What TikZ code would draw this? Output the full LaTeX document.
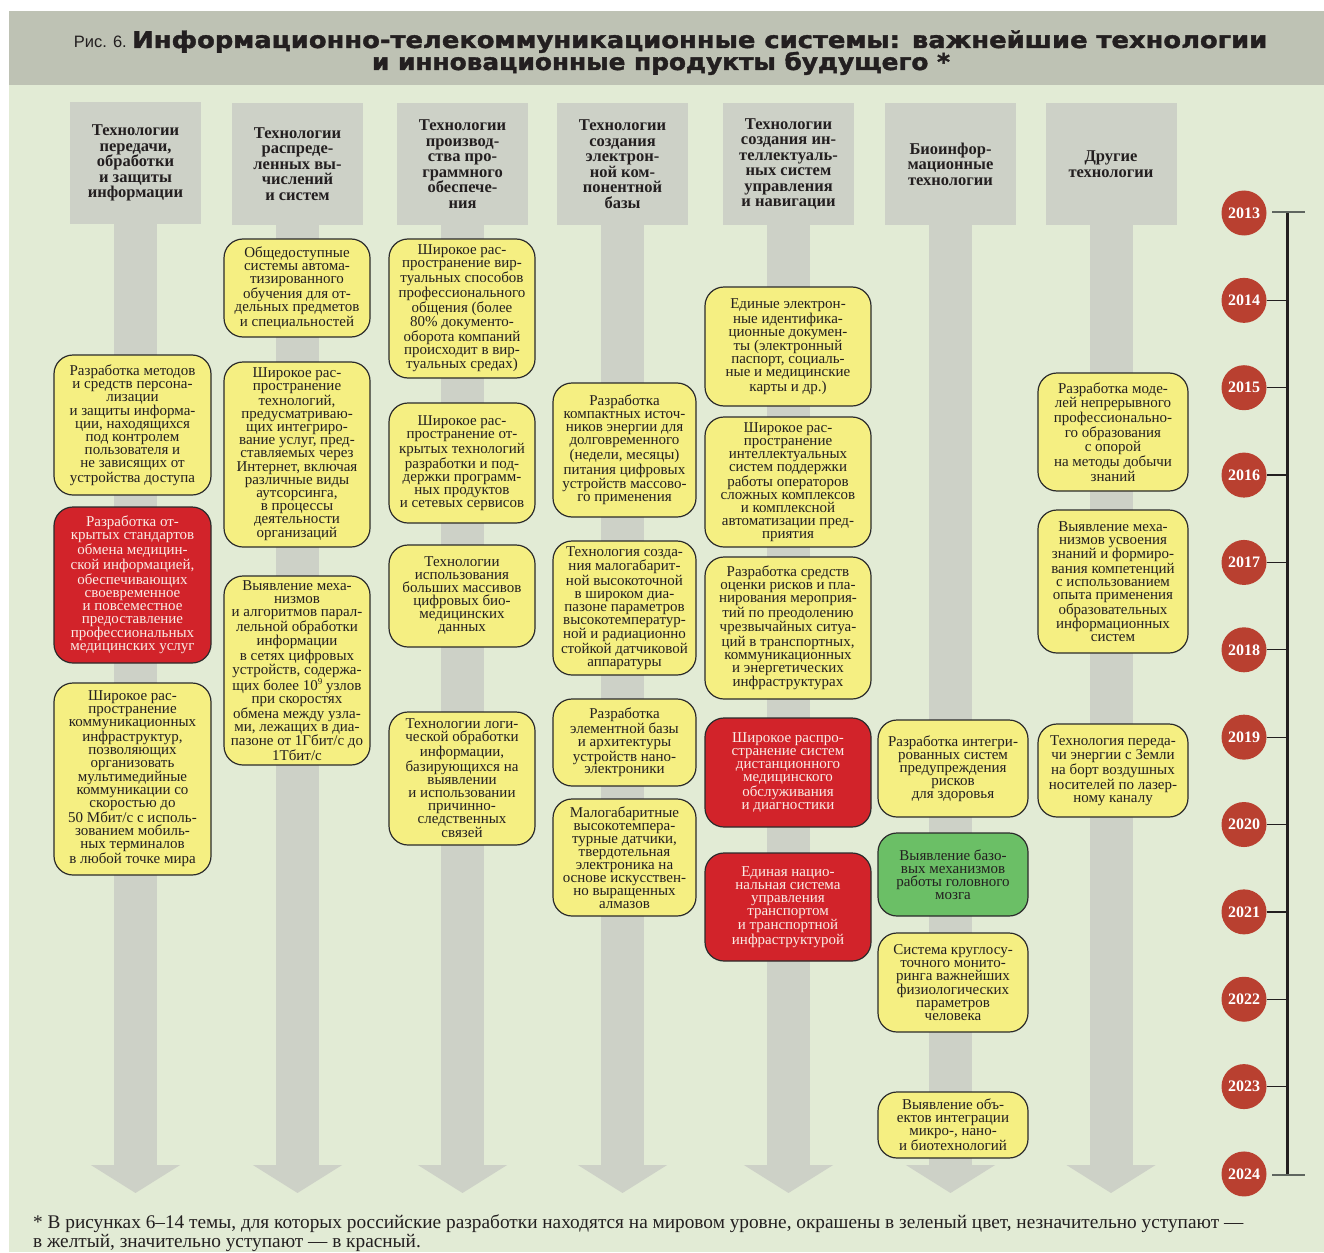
\documentclass[tikz,border=0pt]{standalone}
\usepackage{fontspec}
\usepackage{graphicx}
\setmainfont{Liberation Serif}
\newfontfamily\headsans{DejaVu Sans}[BoldFeatures={FakeBold=1.6}]
\newfontfamily\capsans{Liberation Sans}
\usetikzlibrary{arrows.meta}

\definecolor{bggreen}{HTML}{E2EBD5}
\definecolor{bandgrey}{HTML}{BEC2B4}
\definecolor{headgrey}{HTML}{CDD1C7}
\definecolor{boxyellow}{HTML}{F5EF82}
\definecolor{boxred}{HTML}{D2232A}
\definecolor{boxgreen}{HTML}{6BBF66}
\definecolor{yearred}{HTML}{B94030}
\definecolor{ink}{HTML}{231F20}
\definecolor{redink}{HTML}{FAEDE6}
\definecolor{boxline}{HTML}{2B2B2B}
\definecolor{tickgrey}{HTML}{5F6660}

\tikzset{
  itm/.style={rounded corners=19pt, draw=boxline, line width=1.2pt, align=center,
    inner sep=0pt, font=\rmfamily\fontsize{15}{13}\selectfont, text=ink},
  ybox/.style={itm, fill=boxyellow},
  rbox/.style={itm, fill=boxred, text=redink},
  gbox/.style={itm, fill=boxgreen},
  headbox/.style={fill=headgrey, align=center, inner sep=0pt,
    font=\rmfamily\bfseries\fontsize{16.5}{15.5}\selectfont, text=ink,
    minimum width=131pt, minimum height=122pt},
  flow/.style={draw=headgrey, line width=43pt, -{Triangle[width=88pt,length=28pt]}},
  yr/.style={circle, fill=yearred, text=white, font=\rmfamily\bfseries\fontsize{16}{16}\selectfont,
    minimum size=45pt, inner sep=0pt},
  endtick/.style={draw=tickgrey, line width=2.5pt},
  tick/.style={draw=ink, line width=1.3pt},
  titletext/.style={font=\headsans\bfseries\fontsize{23}{23}\selectfont, text=ink, inner sep=0pt},
  notetext/.style={anchor=base west, font=\rmfamily\fontsize{19.3}{17}\selectfont, text=ink, inner sep=0pt},
}

% rounded item box given by its corner coordinates
\newcommand\itembox[7]{%
  \node[#2, minimum width={(#5-#3)*1pt}, minimum height={(#6-#4)*1pt}]
    (#1) at ({(#3+#5)/2},{(#4+#6)/2}) {#7};}

\begin{document}
\begin{tikzpicture}[x=1pt, y=-1pt]
\useasboundingbox (0,0) rectangle (1324,1252);
\fill[white] (0,0) rectangle (1324,1252);
\fill[bggreen] (9,11) rectangle (1324,1252);
\fill[bandgrey] (9,11) rectangle (1324,85);

% title
\node[anchor=base east, font=\capsans\fontsize{16.5}{16.5}\selectfont, text=ink, inner sep=0pt]
  (fig) at (127,48) {Рис. 6.};
\node[titletext, anchor=base west]
  (t1) at (132,48) {\resizebox{1135pt}{\height}{Информационно-телекоммуникационные системы: важнейшие технологии}};
\node[titletext, anchor=base]
  (t2) at (661,70) {\resizebox{578pt}{\height}{и инновационные продукты будущего *}};

% column headers
\node[headbox] (h1) at (135.5,163) {Технологии\\передачи,\\обработки\\и защиты\\информации};
\node[headbox] (h2) at (297.5,164) {Технологии\\распреде-\\ленных вы-\\числений\\и систем};
\node[headbox] (h3) at (462.5,164) {Технологии\\производ-\\ства про-\\граммного\\обеспече-\\ния};
\node[headbox] (h4) at (622.5,164) {Технологии\\создания\\электрон-\\ной ком-\\понентной\\базы};
\node[headbox] (h5) at (788.5,164) {Технологии\\создания ин-\\теллектуаль-\\ных систем\\управления\\и навигации};
\node[headbox] (h6) at (950.5,164) {Биоинфор-\\мационные\\технологии};
\node[headbox] (h7) at (1111,164) {Другие\\технологии};

% downward flow arrows
\foreach \i/\x in {1/135.5,2/297.5,3/462.5,4/622.5,5/788.5,6/950.5,7/1111}{
  \coordinate (a\i) at (\x,1193);
  \draw[flow] (h\i.south) -- (a\i);
}

% column 1
\itembox{b1}{ybox}{54}{355}{211}{495}{Разработка методов\\и средств персона-\\лизации\\и защиты информа-\\ции, находящихся\\под контролем\\пользователя и\\не зависящих от\\устройства доступа}
\itembox{b2}{rbox}{54}{507}{211}{663}{Разработка от-\\крытых стандартов\\обмена медицин-\\ской информацией,\\обеспечивающих\\своевременное\\и повсеместное\\предоставление\\профессиональных\\медицинских услуг}
\itembox{b3}{ybox}{54}{683}{211}{875}{Широкое рас-\\пространение\\коммуникационных\\инфраструктур,\\позволяющих\\организовать\\мультимедийные\\коммуникации со\\скоростью до\\50 Мбит/с с исполь-\\зованием мобиль-\\ных терминалов\\в любой точке мира}

% column 2
\itembox{c1}{ybox}{224}{239}{370}{337}{Общедоступные\\системы автома-\\тизированного\\обучения для от-\\дельных предметов\\и специальностей}
\itembox{c2}{ybox}{224}{362}{370}{547}{Широкое рас-\\пространение\\технологий,\\предусматриваю-\\щих интегриро-\\вание услуг, пред-\\ставляемых через\\Интернет, включая\\различные виды\\аутсорсинга,\\в процессы\\деятельности\\организаций}
\itembox{c3}{ybox}{224}{576}{370}{765}{Выявление меха-\\низмов\\и алгоритмов парал-\\лельной обработки\\информации\\в сетях цифровых\\устройств, содержа-\\щих более 10\raisebox{0.35em}{\fontsize{9}{9}\selectfont 9} узлов\\при скоростях\\обмена между узла-\\ми, лежащих в диа-\\пазоне от 1Гбит/с до\\1Тбит/с}

% column 3
\itembox{d1}{ybox}{389}{239}{535}{378}{Широкое рас-\\пространение вир-\\туальных способов\\профессионального\\общения (более\\80\% документо-\\оборота компаний\\происходит в вир-\\туальных средах)}
\itembox{d2}{ybox}{389}{403}{535}{523}{Широкое рас-\\пространение от-\\крытых технологий\\разработки и под-\\держки программ-\\ных продуктов\\и сетевых сервисов}
\itembox{d3}{ybox}{389}{545}{535}{647}{Технологии\\использования\\больших массивов\\цифровых био-\\медицинских\\данных}
\itembox{d4}{ybox}{389}{712}{535}{845}{Технологии логи-\\ческой обработки\\информации,\\базирующихся на\\выявлении\\и использовании\\причинно-\\следственных\\связей}

% column 4
\itembox{e1}{ybox}{553}{383}{696}{517}{Разработка\\компактных источ-\\ников энергии для\\долговременного\\(недели, месяцы)\\питания цифровых\\устройств массово-\\го применения}
\itembox{e2}{ybox}{553}{541}{696}{675}{Технология созда-\\ния малогабарит-\\ной высокоточной\\в широком диа-\\пазоне параметров\\высокотемператур-\\ной и радиационно\\стойкой датчиковой\\аппаратуры}
\itembox{e3}{ybox}{553}{699}{696}{786}{Разработка\\элементной базы\\и архитектуры\\устройств нано-\\электроники}
\itembox{e4}{ybox}{553}{799}{696}{916}{Малогабаритные\\высокотемпера-\\турные датчики,\\твердотельная\\электроника на\\основе искусствен-\\но выращенных\\алмазов}

% column 5
\itembox{f1}{ybox}{705}{287}{871}{406}{Единые электрон-\\ные идентифика-\\ционные докумен-\\ты (электронный\\паспорт, социаль-\\ные и медицинские\\карты и др.)}
\itembox{f2}{ybox}{705}{417}{871}{547}{Широкое рас-\\пространение\\интеллектуальных\\систем поддержки\\работы операторов\\сложных комплексов\\и комплексной\\автоматизации пред-\\приятия}
\itembox{f3}{ybox}{705}{557}{871}{699}{Разработка средств\\оценки рисков и пла-\\нирования мероприя-\\тий по преодолению\\чрезвычайных ситуа-\\ций в транспортных,\\коммуникационных\\и энергетических\\инфраструктурах}
\itembox{f4}{rbox}{705}{718}{871}{827}{Широкое распро-\\странение систем\\дистанционного\\медицинского\\обслуживания\\и диагностики}
\itembox{f5}{rbox}{705}{853}{871}{961}{Единая нацио-\\нальная система\\управления\\транспортом\\и транспортной\\инфраструктурой}

% column 6
\itembox{g1}{ybox}{878}{720}{1028}{817}{Разработка интегри-\\рованных систем\\предупреждения\\рисков\\для здоровья}
\itembox{g2}{gbox}{878}{833}{1028}{916}{Выявление базо-\\вых механизмов\\работы головного\\мозга}
\itembox{g3}{ybox}{878}{933}{1028}{1032}{Система круглосу-\\точного монито-\\ринга важнейших\\физиологических\\параметров\\человека}
\itembox{g4}{ybox}{878}{1092}{1028}{1158}{Выявление объ-\\ектов интеграции\\микро-, нано-\\и биотехнологий}

% column 7
\itembox{k1}{ybox}{1038}{373}{1188}{491}{Разработка моде-\\лей непрерывного\\профессионально-\\го образования\\с опорой\\на методы добычи\\знаний}
\itembox{k2}{ybox}{1038}{510}{1188}{653}{Выявление меха-\\низмов усвоения\\знаний и формиро-\\вания компетенций\\с использованием\\опыта применения\\образовательных\\информационных\\систем}
\itembox{k3}{ybox}{1038}{724}{1188}{817}{Технология переда-\\чи энергии с Земли\\на борт воздушных\\носителей по лазер-\\ному каналу}

% timeline of years
\coordinate (tl0) at (1287,212);
\coordinate (tl1) at (1287,1175);
\draw[draw=ink, line width=3pt] (tl0) -- (tl1);
\foreach \k in {0,...,11}{
  \pgfmathsetmacro\yy{213+87.36*\k}
  \pgfmathtruncatemacro\yr{2013+\k}
  \node[yr] (y\yr) at (1244,\yy) {\yr};
}
\coordinate (e0a) at (1272,212);
\coordinate (e0b) at (1305,212);
\coordinate (e1a) at (1272,1175);
\coordinate (e1b) at (1305,1175);
\draw[endtick] (e0a) -- (e0b);
\draw[endtick] (e1a) -- (e1b);
\foreach \yr in {2014,...,2023}{
  \draw[tick] (y\yr.east) -- (y\yr.east -| tl0);
}

% footnote
\node[notetext] (fn1) at (33,1228) {* В рисунках 6–14 темы, для которых российские разработки находятся на мировом уровне, окрашены в зеленый цвет, незначительно уступают —};
\node[notetext] (fn2) at (33,1247) {в желтый, значительно уступают — в красный.};
\end{tikzpicture}
\end{document}
